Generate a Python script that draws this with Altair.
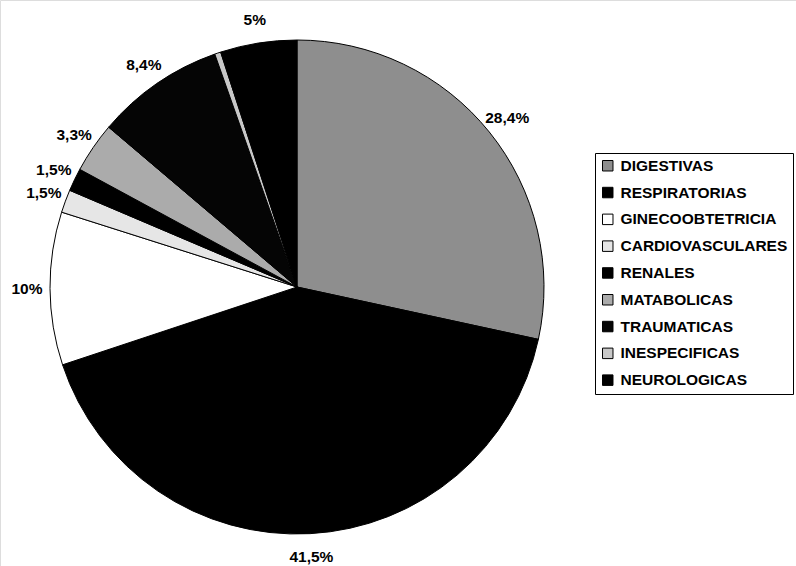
import altair as alt
import pandas as pd

# Causes of admission, share of cases (%)
categories = [
    "DIGESTIVAS", "RESPIRATORIAS", "GINECOOBTETRICIA", "CARDIOVASCULARES",
    "RENALES", "MATABOLICAS", "TRAUMATICAS", "INESPECIFICAS", "NEUROLOGICAS",
]
values = [28.4, 41.5, 10.0, 1.5, 1.5, 3.3, 8.4, 0.4, 5.0]
labels = ["28,4%", "41,5%", "10%", "1,5%", "1,5%", "3,3%", "8,4%", "", "5%"]
fills = ["#8e8e8e", "#000000", "#ffffff", "#e6e6e6", "#000000",
         "#ababab", "#050505", "#c8c8c8", "#000000"]

df = pd.DataFrame({
    "cat": categories,
    "val": values,
    "lab": labels,
    "idx": list(range(len(categories))),
})

CX, CY = 297, 287
FONT = "Liberation Sans"

theta = alt.Theta("val:Q", stack=True)
order = alt.Order("idx:Q", sort="ascending")

slices = alt.Chart(df).mark_arc(
    outerRadius=247, stroke="#000000", strokeWidth=1
).encode(
    theta=theta,
    order=order,
    x=alt.value(CX),
    y=alt.value(CY),
    color=alt.Color(
        "cat:N",
        scale=alt.Scale(domain=categories, range=fills),
        sort=categories,
        legend=alt.Legend(
            title=None,
            orient="none",
            legendX=595,
            legendY=153,
            padding=5,
            symbolType="square",
            symbolSize=110,
            symbolStrokeColor="#000000",
            symbolStrokeWidth=1,
            labelFont=FONT,
            labelFontSize=15.5,
            labelFontWeight="bold",
            labelColor="#000000",
            labelOffset=5,
            rowPadding=9.8,
            strokeColor="#000000",
            fillColor="#ffffff",
            labelLimit=300,
        ),
    ),
)

texts = alt.Chart(df).mark_text(
    radius=270, font=FONT, fontSize=15.5, fontWeight="bold", color="#000000",
    align="center", baseline="middle"
).encode(
    theta=theta,
    order=order,
    x=alt.value(CX),
    y=alt.value(CY),
    text="lab:N",
)

chart = alt.layer(slices, texts).properties(
    width=796, height=566,
    autosize=alt.AutoSizeParams(type="none"),
    padding=0,
).configure_view(stroke=None).configure(background="#ffffff")

chart.save("out.html", embed_options={"renderer": "svg", "actions": False})
